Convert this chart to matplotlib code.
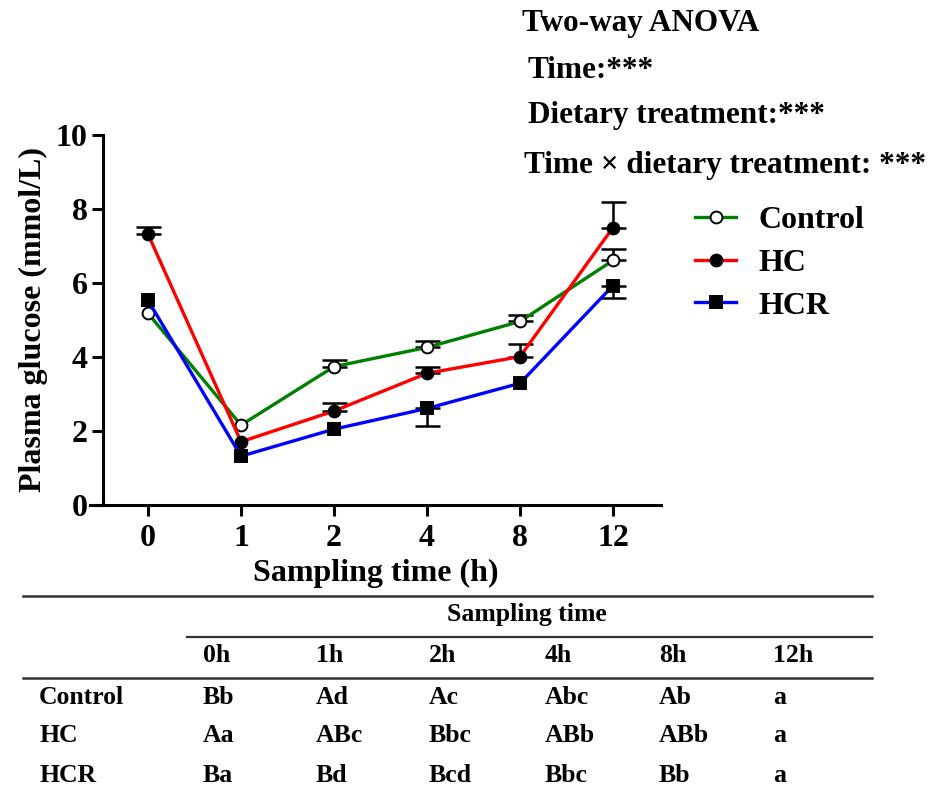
import numpy as np
import matplotlib.pyplot as plt
from matplotlib.lines import Line2D

plt.rcParams['font.family'] = ['Liberation Serif', 'DejaVu Serif']
plt.rcParams['font.weight'] = 'bold'

# data (0 = error bar hidden behind the marker)
times = ['0', '1', '2', '4', '8', '12']
control = [5.18, 2.16, 3.74, 4.26, 4.96, 6.61]
control_err = [0.0, 0.0, 0.18, 0.17, 0.17, 0.30]
hc = [7.32, 1.71, 2.54, 3.56, 4.01, 7.50]
hc_err = [0.20, 0.0, 0.23, 0.17, 0.34, 0.68]
hcr = [5.53, 1.32, 2.05, 2.61, 3.29, 5.93]
hcr_err = [0.0, 0.0, 0.0, 0.47, 0.0, 0.34]

# significance letters table
tab_cols = ['0h', '1h', '2h', '4h', '8h', '12h']
tab_rows = ['Control', 'HC', 'HCR']
tab_vals = [['Bb', 'Ad', 'Ac', 'Abc', 'Ab', 'a'],
            ['Aa', 'ABc', 'Bbc', 'ABb', 'ABb', 'a'],
            ['Ba', 'Bd', 'Bcd', 'Bbc', 'Bb', 'a']]

W, H = 930, 797
fig = plt.figure(figsize=(W / 100, H / 100), dpi=100)


def fx(px):
    return px / W


def fy(py):
    return 1 - py / H


ax = fig.add_axes([fx(90), fy(505), fx(661) - fx(90), fy(135) - fy(505)])
x = np.arange(len(times))

series = [
    ('Control', control, control_err, '#008000', 'o', 'white', 'up'),
    ('HC', hc, hc_err, '#ff0000', 'o', 'black', 'up'),
    ('HCR', hcr, hcr_err, '#0000ff', 's', 'black', 'down'),
]
for name, vals, err, col, mk, mfc, side in series:
    vals = np.array(vals)
    err = np.array(err)
    keep = err > 0
    if side == 'up':
        yerr = [np.zeros(keep.sum()), err[keep]]
    else:
        yerr = [err[keep], np.zeros(keep.sum())]
    ax.errorbar(x[keep], vals[keep], yerr=yerr, fmt='none', ecolor='black',
                elinewidth=1.8, capsize=9, capthick=1.8, zorder=2)
    ax.plot(x, vals, color=col, lw=2.4, marker=mk, markersize=8.5,
            markerfacecolor=mfc, markeredgecolor='black', markeredgewidth=1.4,
            label=name, zorder=3)

ax.set_xlim(-0.624, 5.516)
ax.set_ylim(0, 10)
ax.set_yticks([0, 2, 4, 6, 8, 10])
ax.set_xticks(x)
ax.set_xticklabels(times)
ax.spines['top'].set_visible(False)
ax.spines['right'].set_visible(False)
ax.spines['left'].set_position(('data', -0.484))
for s in ('left', 'bottom'):
    ax.spines[s].set_linewidth(2.2)
ax.tick_params(axis='both', direction='out', length=8, width=2.2,
               labelsize=23, pad=3)
ax.tick_params(axis='x', pad=6)
for lab in ax.get_xticklabels() + ax.get_yticklabels():
    lab.set_fontweight('bold')

ax.set_ylabel('Plasma glucose (mmol/L)', fontsize=23, fontweight='bold', labelpad=6)
ax.set_xlabel('Sampling time (h)', fontsize=23, fontweight='bold', labelpad=4)

ax.legend(loc='upper left', bbox_to_anchor=(fx(666), fy(177)),
          bbox_transform=fig.transFigure, frameon=False, fontsize=23,
          handlelength=1.3, handletextpad=0.7, labelspacing=0.42)

# ANOVA header
fig.text(fx(522), fy(24), 'Two-way ANOVA', fontsize=22.5, fontweight='bold', va='center')
fig.text(fx(527), fy(71), 'Time:***', fontsize=22.5, fontweight='bold', va='center')
fig.text(fx(528), fy(116), 'Dietary treatment:***', fontsize=22.5, fontweight='bold', va='center')
fig.text(fx(524), fy(166), 'Time \u00d7 dietary treatment: ***', fontsize=22.5,
         fontweight='bold', va='center')

# table below
fig.add_artist(Line2D([fx(23), fx(872)], [fy(596), fy(596)], color='#333333', lw=1.8))
fig.add_artist(Line2D([fx(187), fx(872)], [fy(637), fy(637)], color='#333333', lw=1.6))
fig.add_artist(Line2D([fx(23), fx(872)], [fy(678), fy(678)], color='#333333', lw=1.8))
fig.text(fx(527), fy(615), 'Sampling time', fontsize=18.5, fontweight='bold',
         ha='center', va='center')
col_x = [203, 316, 429, 545, 659, 773]
row_y = [697, 735, 775]
for cx, c in zip(col_x, tab_cols):
    fig.text(fx(cx), fy(656), c, fontsize=18.5, fontweight='bold', va='center')
for ry, rname, vals in zip(row_y, tab_rows, tab_vals):
    fig.text(fx(39), fy(ry), rname, fontsize=18.5, fontweight='bold', va='center')
    for cx, v in zip(col_x, vals):
        fig.text(fx(cx), fy(ry), v, fontsize=18.5, fontweight='bold', va='center')

fig.savefig('out.png', dpi=100)
